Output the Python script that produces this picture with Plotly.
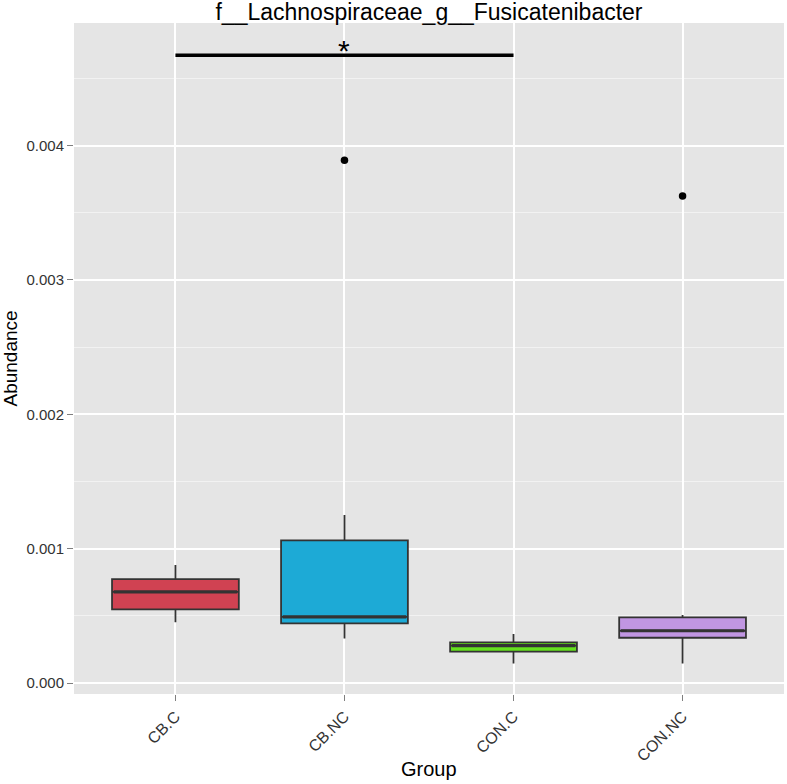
import plotly.graph_objects as go

# ---- data ----
categories = ["CB.C", "CB.NC", "CON.C", "CON.NC"]
q1 = [0.000548, 0.000444, 0.000233, 0.000337]
median = [0.000679, 0.000493, 0.000278, 0.000389]
q3 = [0.000774, 0.001062, 0.000303, 0.000489]
lower_whisker = [0.000452, 0.000332, 0.000146, 0.000146]
upper_whisker = [0.000878, 0.001250, 0.000365, 0.000506]
outlier_group = ["CB.NC", "CON.NC"]
outlier_value = [0.003891, 0.003626]
fill_colors = ["#D04252", "#1DAAD6", "#64E11E", "#C196E2"]
sig_pair = ["CB.C", "CON.C"]
sig_y = 0.004673
sig_label = "*"
y_ticks = [0.000, 0.001, 0.002, 0.003, 0.004]

BOX_W = 0.75
EDGE = "#333333"

fig = go.Figure()
xpos = {c: i for i, c in enumerate(categories)}

for i, c in enumerate(categories):
    fig.add_trace(go.Box(
        x=[i], q1=[q1[i]], median=[median[i]], q3=[q3[i]],
        lowerfence=[lower_whisker[i]], upperfence=[upper_whisker[i]],
        width=BOX_W, whiskerwidth=0, fillcolor=fill_colors[i],
        line=dict(color=EDGE, width=1.8), boxpoints=False,
        name=c, showlegend=False,
    ))
    # thicker median line (ggplot style)
    fig.add_trace(go.Scatter(
        x=[i - BOX_W / 2 + 0.01, i + BOX_W / 2 - 0.01], y=[median[i], median[i]],
        mode="lines", line=dict(color=EDGE, width=3.2),
        showlegend=False, hoverinfo="skip",
    ))

fig.add_trace(go.Scatter(
    x=[xpos[g] for g in outlier_group], y=outlier_value, mode="markers",
    marker=dict(color="black", size=7.5), showlegend=False,
))

# significance bar
fig.add_trace(go.Scatter(
    x=[xpos[sig_pair[0]], xpos[sig_pair[1]]], y=[sig_y, sig_y], mode="lines",
    line=dict(color="black", width=3.5), showlegend=False, hoverinfo="skip",
))
fig.add_annotation(
    x=(xpos[sig_pair[0]] + xpos[sig_pair[1]]) / 2, y=sig_y, text=sig_label,
    showarrow=False, xref="x", yref="y", yanchor="middle", yshift=5,
    font=dict(size=30, color="black", family="Liberation Sans, Arial, sans-serif"),
)

FONT = "Liberation Sans, Arial, Helvetica, sans-serif"
fig.update_layout(
    width=787, height=784,
    margin=dict(l=74, r=3, t=23, b=90),
    paper_bgcolor="white", plot_bgcolor="#E5E5E5",
    font=dict(family=FONT),
    title=dict(text="f__Lachnospiraceae_g__Fusicatenibacter", xref="paper", x=0.5,
               xanchor="center", yref="container", y=1 - 12 / 784, yanchor="middle",
               font=dict(size=23, color="black", family=FONT)),
    xaxis=dict(range=[-0.6, 3.6], tickvals=list(range(len(categories))),
               ticktext=categories, tickangle=-45, showgrid=True,
               gridcolor="white", gridwidth=1.8, zeroline=False,
               ticks="outside", ticklen=6, tickcolor="#7F7F7F", tickwidth=1.2,
               tickfont=dict(size=16, color="#333333", family=FONT), showline=False),
    yaxis=dict(range=[-0.0000818, 0.004913], tickvals=y_ticks, tickformat=".3f",
               showgrid=True, gridcolor="white", gridwidth=1.8, zeroline=False,
               ticks="outside", ticklen=6, tickcolor="#7F7F7F", tickwidth=1.2,
               tickfont=dict(size=15, color="#333333", family=FONT), showline=False,
               minor=dict(dtick=0.0005, tick0=0, showgrid=True, gridcolor="#F2F2F2",
                          gridwidth=0.8, ticks="")),
)

fig.add_annotation(text="Group", xref="paper", yref="paper", x=0.5,
                   y=-(769 - 694) / (784 - 23 - 90), yanchor="middle", showarrow=False,
                   font=dict(size=20, color="black", family=FONT))
fig.add_annotation(text="Abundance", xref="paper", yref="paper",
                   x=-(74 - 10) / (787 - 74 - 3), xanchor="center", y=0.5,
                   yanchor="middle", textangle=-90, showarrow=False,
                   font=dict(size=19, color="black", family=FONT))

fig.write_html("out.html", config={"displayModeBar": False},
               post_script="document.body.style.margin='0';document.body.style.overflow='hidden';")
